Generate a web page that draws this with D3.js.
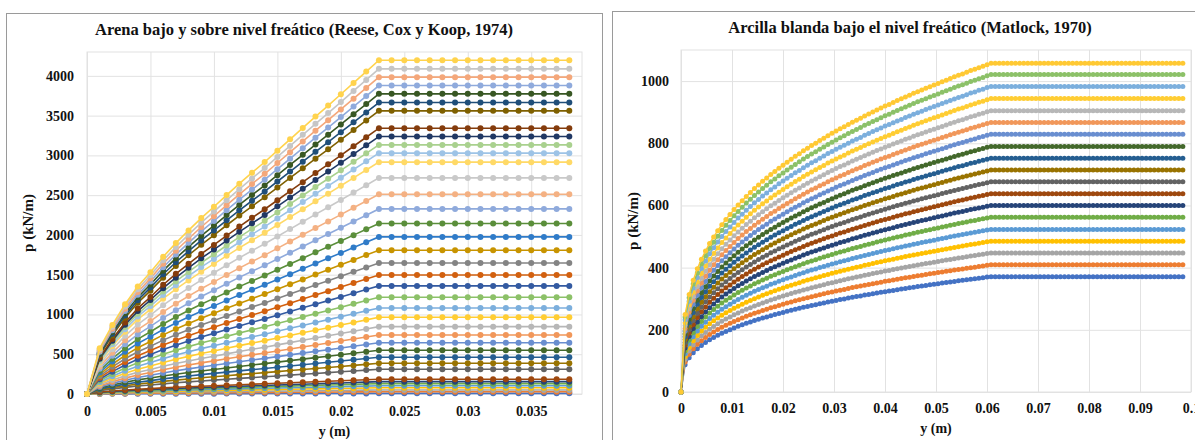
<!DOCTYPE html>
<html>
<head>
<meta charset="utf-8">
<script src="https://cdn.jsdelivr.net/npm/d3@7"></script>
<style>
  body { margin: 0; background: #fff; }
  svg { display: block; font-family: "Liberation Serif", "Times New Roman", serif; font-weight: bold; }
</style>
</head>
<body>
<svg id="chart" width="1195" height="440"></svg>
<script>
// ---- left chart: sand (Reese, Cox y Koop) ----
const sandStep = 0.001;
const sandShape = [0, 0.137, 0.207, 0.269, 0.322, 0.365, 0.411, 0.452, 0.490,
  0.527, 0.561, 0.596, 0.630, 0.663, 0.695, 0.729, 0.763,
  0.797, 0.831, 0.864, 0.898, 0.932, 0.966, 1,
  1, 1, 1, 1, 1, 1, 1, 1, 1, 1, 1, 1, 1, 1, 1];
// plateau (pu) of every curve, bottom to top
const sandPu = [8, 28, 50, 78, 103, 130, 155, 186, 311, 386, 462, 550, 645, 742, 847, 965,
  1082, 1216, 1359, 1497, 1648, 1808, 1975, 2143, 2327, 2512, 2717, 2915, 3028, 3132,
  3237, 3342, 3560, 3665, 3774, 3878, 3984, 4088, 4197];
const sandColors = ["#4472C4", "#ED7D31", "#A5A5A5", "#FFC000", "#5B9BD5", "#70AD47",
  "#264478", "#9E480E", "#636363", "#997300", "#255E91", "#43682B",
  "#698ED0", "#F1975A", "#B7B7B7", "#FFCD33", "#7CAFDD", "#8CC168",
  "#335AA1", "#D2600F", "#848484", "#C89400", "#2F7BC8", "#5A8E3A",
  "#8FAADC", "#F4B183", "#C9C9C9", "#FFD966", "#9DC3E6", "#A9D18E",
  "#203864", "#843C0C", "#7F6000", "#1F4E79", "#385723",
  "#8FAADC", "#F4A77A", "#C6C6C6", "#FFD34D"];
const sandXTicks = [0, 0.005, 0.01, 0.015, 0.02, 0.025, 0.03, 0.035];
const sandYTicks = [0, 500, 1000, 1500, 2000, 2500, 3000, 3500, 4000];

// ---- right chart: soft clay (Matlock) ----
const clayStep = 0.0008;
const clayShape = [0, 0.236, 0.297, 0.340, 0.375, 0.404, 0.429, 0.452, 0.472, 0.491,
  0.509, 0.525, 0.540, 0.555, 0.569, 0.582, 0.595, 0.607, 0.619, 0.630,
  0.641, 0.651, 0.662, 0.671, 0.681, 0.690, 0.699, 0.708, 0.717, 0.725,
  0.734, 0.742, 0.750, 0.757, 0.765, 0.772, 0.780, 0.787, 0.794, 0.801,
  0.807, 0.814, 0.821, 0.827, 0.833, 0.840, 0.846, 0.852, 0.858, 0.864,
  0.870, 0.875, 0.881, 0.887, 0.892, 0.898, 0.903, 0.909, 0.914, 0.919,
  0.924, 0.929, 0.934, 0.939, 0.944, 0.949, 0.954, 0.959, 0.964, 0.968,
  0.973, 0.978, 0.982, 0.987, 0.991, 0.996, 1,
  1, 1, 1, 1, 1, 1, 1, 1, 1, 1, 1, 1, 1, 1, 1, 1, 1, 1, 1, 1, 1, 1, 1, 1,
  1, 1, 1, 1, 1, 1, 1, 1, 1, 1, 1, 1, 1, 1, 1, 1, 1, 1, 1, 1, 1, 1, 1];
const clayPu = [371, 409, 447, 485, 523, 562, 600, 638, 676, 714, 752, 790,
  829, 867, 905, 944, 983, 1021, 1057];
const clayColors = ["#4472C4", "#ED7D31", "#A5A5A5", "#FFC000", "#5B9BD5", "#70AD47",
  "#264478", "#9E480E", "#636363", "#997300", "#255E91", "#43682B",
  "#698ED0", "#F1975A", "#B7B7B7", "#FFCD33", "#7CAFDD", "#8CC168", "#FFC933"];
const clayXTicks = [0, 0.01, 0.02, 0.03, 0.04, 0.05, 0.06, 0.07, 0.08, 0.09, 0.1];
const clayYTicks = [0, 200, 400, 600, 800, 1000];

const svg = d3.select("#chart");

function drawPanel(cfg) {
  // outer chart frame
  svg.append("rect")
    .attr("x", cfg.frame[0] + 0.5).attr("y", cfg.frame[1] + 0.5)
    .attr("width", cfg.frame[2]).attr("height", cfg.frame[3])
    .attr("fill", "#fff").attr("stroke", "#9a9a9a").attr("stroke-width", 1);

  const x = d3.scaleLinear().domain(cfg.xDomain).range([cfg.left, cfg.right]);
  const y = d3.scaleLinear().domain(cfg.yDomain).range([cfg.bottom, cfg.top]);

  svg.append("rect")
    .attr("x", cfg.left).attr("y", cfg.top)
    .attr("width", cfg.right - cfg.left).attr("height", cfg.bottom - cfg.top)
    .attr("fill", "none").attr("stroke", "#e2e2e2");

  svg.append("g")
    .attr("transform", `translate(${cfg.left},0)`)
    .call(d3.axisLeft(y).tickValues(cfg.yTicks).tickSize(-(cfg.right - cfg.left)).tickPadding(cfg.yPad)
      .tickFormat(d => String(d)))
    .call(g => g.select(".domain").remove())
    .call(g => g.selectAll("line").attr("stroke", "#e2e2e2"))
    .call(g => g.selectAll("text").attr("font-size", 14).attr("fill", "#111")
      .attr("font-family", "Liberation Serif").attr("font-weight", "bold"));

  svg.append("g")
    .attr("transform", `translate(0,${cfg.bottom})`)
    .call(d3.axisBottom(x).tickValues(cfg.xTicks).tickSize(-(cfg.bottom - cfg.top)).tickPadding(cfg.xPad)
      .tickFormat(d => String(+d.toFixed(4))))
    .call(g => g.select(".domain").remove())
    .call(g => g.selectAll("line").attr("stroke", "#e2e2e2"))
    .call(g => g.selectAll("text").attr("font-size", 14).attr("fill", "#111")
      .attr("font-family", "Liberation Serif").attr("font-weight", "bold"));

  const line = d3.line().x(d => x(d[0])).y(d => y(d[1]));

  const series = cfg.pu.map((pu, k) => ({
    color: cfg.colors[k],
    pts: cfg.shape.map((s, i) => [i * cfg.step, s * pu])
  }));

  const sg = svg.append("g").selectAll("g").data(series).join("g");
  sg.append("path")
    .attr("d", d => line(d.pts))
    .attr("fill", "none")
    .attr("stroke", d => d.color)
    .attr("stroke-width", cfg.lw);
  sg.selectAll("circle").data(d => d.pts.map(p => ({ p, c: d.color }))).join("circle")
    .attr("cx", d => x(d.p[0]))
    .attr("cy", d => y(d.p[1]))
    .attr("r", cfg.r)
    .attr("fill", d => d.c);

  svg.append("text")
    .attr("x", cfg.titleX).attr("y", cfg.titleY)
    .attr("text-anchor", "middle").attr("font-size", 16.5).attr("fill", "#111")
    .text(cfg.title);

  svg.append("text")
    .attr("x", (cfg.left + cfg.right) / 2).attr("y", cfg.xTitleY)
    .attr("text-anchor", "middle").attr("font-size", 14).attr("fill", "#111")
    .text("y (m)");

  svg.append("text")
    .attr("transform", `translate(${cfg.yTitleX},${(cfg.top + cfg.bottom) / 2}) rotate(-90)`)
    .attr("text-anchor", "middle").attr("font-size", 15).attr("fill", "#111")
    .text("p (kN/m)");
}

drawPanel({
  frame: [6, 13, 596, 440],
  left: 87, right: 582, top: 52, bottom: 394,
  xDomain: [0, 0.039], yDomain: [0, 4300],
  xTicks: sandXTicks, yTicks: sandYTicks, xPad: 12, yPad: 13,
  step: sandStep, shape: sandShape, pu: sandPu, colors: sandColors,
  lw: 1.6, r: 3,
  title: "Arena bajo y sobre nivel freático (Reese, Cox y Koop, 1974)",
  titleX: 304, titleY: 35, xTitleY: 436, yTitleX: 33
});

drawPanel({
  frame: [612, 11, 600, 440],
  left: 681, right: 1191, top: 50, bottom: 392,
  xDomain: [0, 0.1], yDomain: [0, 1100],
  xTicks: clayXTicks, yTicks: clayYTicks, xPad: 11.5, yPad: 12,
  step: clayStep, shape: clayShape, pu: clayPu, colors: clayColors,
  lw: 1.4, r: 2.5,
  title: "Arcilla blanda bajo el nivel freático (Matlock, 1970)",
  titleX: 910, titleY: 33, xTitleY: 433, yTitleX: 638
});
</script>
</body>
</html>
